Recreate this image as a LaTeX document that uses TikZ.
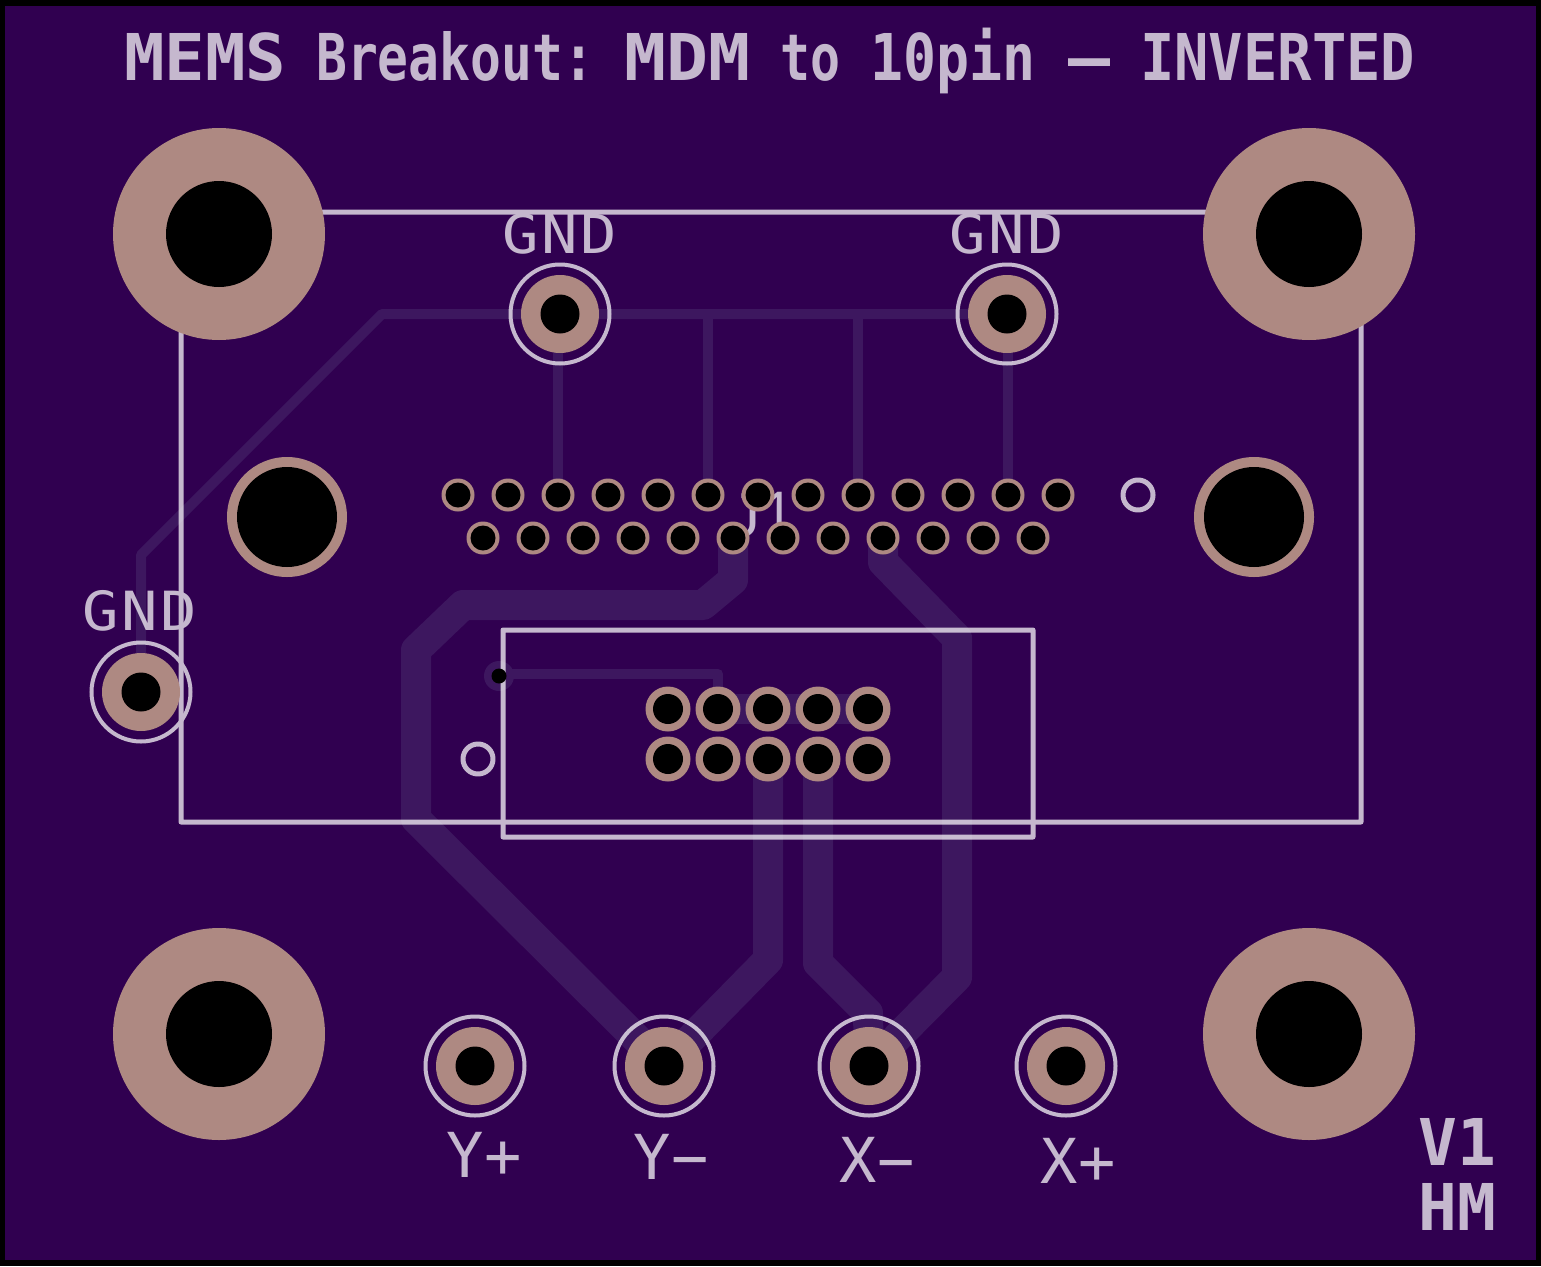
\documentclass[tikz,border=0pt]{standalone}
\usepackage{fontspec}
\newfontfamily\titlefont{DejaVu Sans Mono Bold}
\newfontfamily\thinfont{DejaVu Sans Mono}
\newfontfamily\gndfont[LetterSpace=4.4]{DejaVu Sans Mono}
\newfontfamily\jfont{Liberation Sans}
\newfontfamily\onefont{Open Sans}
\definecolor{boardc}{RGB}{48,0,80}
\definecolor{trackc}{RGB}{61,23,95}
\definecolor{padc}{RGB}{174,137,130}
\newlength\fitlen
\newcommand\fitword[2]{\settowidth\fitlen{#2}\pgfmathsetmacro\fitratio{#1/\fitlen}\scalebox{\fitratio}[1]{#2}}
\tikzset{
  thintrack/.style={draw=trackc,line width=10pt,line cap=round,line join=round},
  thicktrack/.style={draw=trackc,line width=30pt,line cap=round,line join=round},
  silkline/.style={draw=white,line width=5pt,line join=round,line cap=round},
  silkring/.style={draw=white,line width=4pt},
  bigtext/.style={text=white,font=\titlefont\fontsize{64.5}{70}\selectfont,inner sep=0pt,anchor=base},
  lbltext/.style={text=white,font=\thinfont\fontsize{62}{70}\selectfont,inner sep=0pt,anchor=base},
  gndtext/.style={text=white,font=\gndfont\fontsize{54}{60}\selectfont,inner sep=0pt,anchor=base west},
}
\begin{document}
\begin{tikzpicture}[x=1pt,y=-1pt]
\useasboundingbox (0,0) rectangle (1541,1266);
\fill[black] (0,0) rectangle (1541,1266);
\fill[boardc] (5,6) rectangle (1536,1260);
% named positions
\foreach \n/\x/\y in {b1/219/234,b2/1309/234,b3/219/1034,b4/1309/1034,m1/287/517,m2/1254/517,
  g1/560/314,g2/1007/314,g3/141/692,yp/475/1066,ym/664/1066,xm/869/1066,xp/1066/1066,via/499/676}
  {\coordinate (\n) at (\x,\y);}
\foreach \i in {0,...,12} {\coordinate (t\i) at ({458+50*\i},495);}
\foreach \i in {0,...,11} {\coordinate (u\i) at ({483+50*\i},538);}
\foreach \i in {0,...,4} {\coordinate (h\i) at ({668+50*\i},709); \coordinate (k\i) at ({668+50*\i},759);}
% thin tracks
\path[thintrack] (g3) -- (141,555) -- (382,314) -- (g2);
\path[thintrack] (558,314) -- (t2);
\path[thintrack] (708,314) -- (t5);
\path[thintrack] (858,314) -- (t8);
\path[thintrack] (1008,314) -- (t11);
\path[thintrack] (via) -- (499,674) -- (718,674) -- (h1);
\fill[trackc] (via) circle[radius=15];
% thick tracks
\path[thicktrack] (h1) -- (h4);
\path[thicktrack] (u5) -- (733,580) -- (703,605) -- (463,605) -- (416,650) -- (416,819) -- (ym);
\path[thicktrack] (k2) -- (768,960) -- (ym);
\path[thicktrack] (k3) -- (818,963) -- (868,1013) -- (xm);
\path[thicktrack] (u8) -- (883,562) -- (957,638) -- (957,977) -- (xm);
% silkscreen
\begin{scope}[transparency group,opacity=.72]
\draw[silkline] (181,212) rectangle (1361,822);
\draw[silkline] (503,630) rectangle (1033,837);
\draw[silkline] (478,759) circle[radius=15];
\draw[silkline] (1138,495) circle[radius=15];
\foreach \c in {g1,g2,g3,yp,ym,xm,xp} {\draw[silkring] (\c) circle[radius=49.5];}
\node[bigtext,anchor=base west] (title) at (124,80) {\fitword{162}{MEMS}\hspace{30pt}\fitword{278}{Breakout:}\hspace{30pt}\fitword{126}{MDM}\hspace{30pt}\fitword{60}{to}\hspace{30pt}\fitword{165}{10pin}\hspace{33pt}\fitword{42}{—}\hspace{30pt}\fitword{275}{INVERTED}};
\node[bigtext] (v1) at (1457,1165) {V1};
\node[bigtext] (hm) at (1457,1230) {HM};
\node[gndtext] (gl1) at (502,253) {\scalebox{1.12}[1]{GND}};
\node[gndtext] (gl2) at (949,253) {\scalebox{1.12}[1]{GND}};
\node[gndtext] (gl3) at (82,630) {\scalebox{1.12}[1]{GND}};
\node[lbltext] (lyp) at (484,1177) {Y+};
\node[lbltext] (lym) at (671,1179) {Y−};
\node[lbltext] (lxm) at (877,1182) {X−};
\node[lbltext] (lxp) at (1078,1183) {X+};
\node[lbltext,font=\jfont\fontsize{62}{60}\selectfont] (lj) at (763,536) {J{\onefont 1}};
\end{scope}
% pads
\foreach \c in {b1,b2,b3,b4} {\fill[padc] (\c) circle[radius=106]; \fill[black] (\c) circle[radius=53];}
\foreach \c in {m1,m2} {\fill[padc] (\c) circle[radius=60]; \fill[black] (\c) circle[radius=50];}
\foreach \c in {g1,g2,g3,yp,ym,xm,xp} {\fill[padc] (\c) circle[radius=39]; \fill[black] (\c) circle[radius=19.5];}
\foreach \i in {0,...,12} {\fill[padc] (t\i) circle[radius=16.5]; \fill[black] (t\i) circle[radius=12.5];}
\foreach \i in {0,...,11} {\fill[padc] (u\i) circle[radius=16.5]; \fill[black] (u\i) circle[radius=12.5];}
\foreach \i in {0,...,4} {
  \fill[padc] (h\i) circle[radius=22.5]; \fill[black] (h\i) circle[radius=15];
  \fill[padc] (k\i) circle[radius=22.5]; \fill[black] (k\i) circle[radius=15];}
\fill[black] (via) circle[radius=7.5];
\end{tikzpicture}
\end{document}
